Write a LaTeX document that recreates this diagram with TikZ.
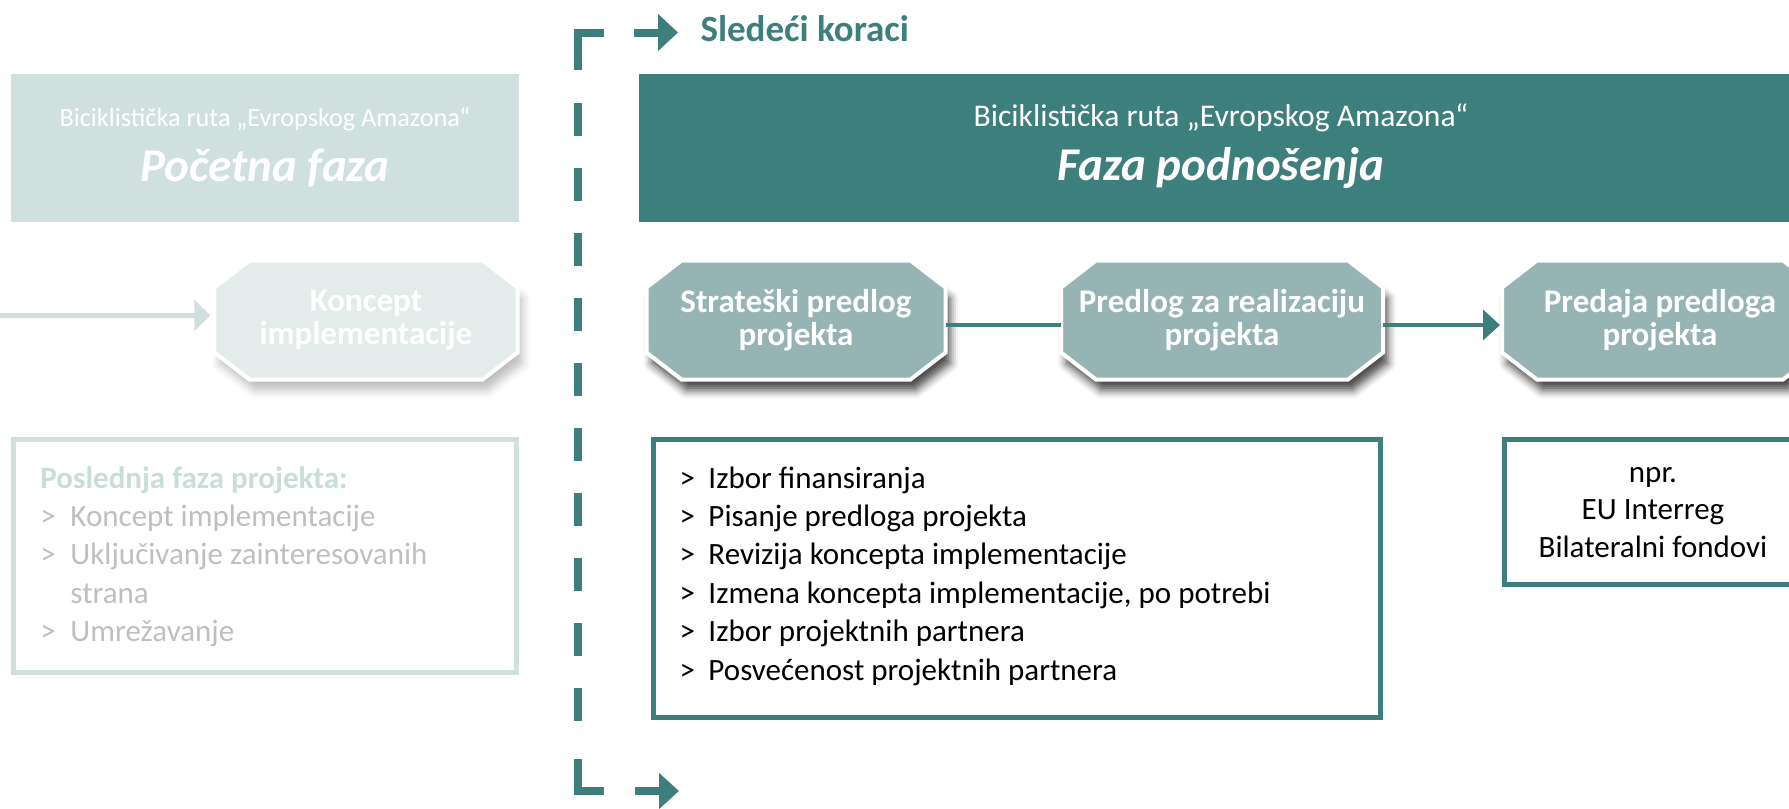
\documentclass[tikz,border=0pt]{standalone}
\usepackage{fontspec}
\setmainfont{Carlito}
\usetikzlibrary{arrows.meta,shadows.blur,backgrounds}
\definecolor{teal1}{HTML}{3D7F7D}
\definecolor{nodefill}{HTML}{95B4B3}
\definecolor{lightfill}{HTML}{CFE0DF}
\definecolor{paleN}{HTML}{E3ECEB}
\definecolor{greytext}{HTML}{BFBFBF}
\definecolor{lighthead}{HTML}{C9DDDB}
\newcommand\octpath[1]{([xshift=14pt]#1.north west) -- ([xshift=-14pt]#1.north east) -- ([yshift=-10.8pt]#1.north east) -- ([yshift=10.8pt]#1.south east) -- ([xshift=-14pt]#1.south east) -- ([xshift=14pt]#1.south west) -- ([yshift=10.8pt]#1.south west) -- ([yshift=-10.8pt]#1.north west) -- cycle}
\begin{document}
\begin{tikzpicture}[x=0.4pt,y=-0.4pt,line cap=butt,
  hdrsub/.style={text=white, anchor=base, inner sep=0pt},
  hdrtitle/.style={text=white, anchor=base, inner sep=0pt, font=\fontsize{18.8}{22}\selectfont\bfseries\itshape},
  stepnode/.style={rectangle, minimum height=47.2pt, inner sep=0pt, text=white, align=center, font=\fontsize{13.2}{13.2}\selectfont\bfseries},
  octfill/.style={fill=nodefill, draw=white, line width=1.6pt, line join=miter, blur shadow={shadow xshift=2pt, shadow yshift=-4.4pt, shadow blur radius=3.2pt, shadow opacity=#1}},
  octfill/.default=70,
  divider/.style={draw=teal1, line width=3.2pt, line join=miter},
  bigarrow/.style={draw=teal1, line width=3.2pt, -{Triangle[length=8pt, width=14.4pt]}},
  connline/.style={draw=teal1, line width=1.6pt},
  lightarrow/.style={draw=lightfill, line width=2pt, -{Triangle[length=6.4pt, width=12pt]}},
  infobox/.style={rectangle, inner sep=0pt, line width=2pt},
  boxtext/.style={inner sep=0pt, font=\fontsize{12.4}{15.36}\selectfont}
]
\useasboundingbox (0,0) rectangle (1789,808);
\clip (0,0) rectangle (1789,808);

% header boxes
\node[fill=lightfill, minimum width=203.2pt, minimum height=59.2pt, inner sep=0pt] (hdrL) at (265,148) {};
\node[hdrsub, font=\fontsize{10.5}{12}\selectfont] (hdrLsub) at (265,126) {Biciklistička ruta „Evropskog Amazona“};
\node[hdrtitle] (hdrLtit) at (265,181) {Početna faza};
\node[fill=teal1, minimum width=465.6pt, minimum height=59.2pt, inner sep=0pt] (hdrR) at (1221,148) {};
\node[hdrsub, font=\fontsize{12.64}{14}\selectfont] (hdrRsub) at (1221,126) {Biciklistička ruta „Evropskog Amazona“};
\node[hdrtitle] (hdrRtit) at (1221,180) {Faza podnošenja};

% next steps label
\node[anchor=base west, inner sep=0pt, text=teal1, font=\fontsize{14.8}{16}\selectfont\bfseries] (next) at (700,41) {Sledeći koraci};

% divider
\coordinate (dTopA) at (604,32.5);
\coordinate (dTopB) at (577.5,32.5);
\coordinate (dTopC) at (577.5,70);
\coordinate (dMidA) at (577.5,103);
\coordinate (dMidB) at (577.5,721);
\coordinate (dBotC) at (577.5,759);
\coordinate (dBotB) at (577.5,791);
\coordinate (dBotA) at (604,791);
\draw[divider] (dTopA) -- (dTopB) -- (dTopC);
\draw[divider, dash pattern=on 13.2pt off 12.8pt] (dMidA) -- (dMidB);
\draw[divider] (dBotC) -- (dBotB) -- (dBotA);

% small arrows
\coordinate (aTopS) at (634,32.5);
\coordinate (aTopE) at (678,32.5);
\draw[bigarrow] (aTopS) -- (aTopE);
\coordinate (aBotS) at (635,791);
\coordinate (aBotE) at (679,791);
\draw[bigarrow, -{Triangle[length=8pt, width=14pt]}] (aBotS) -- (aBotE);

% step nodes
\node[stepnode, minimum width=120.8pt] (kon) at (366,320) {Koncept\\implementacije};
\node[stepnode, minimum width=119.2pt] (str) at (796,320) {Strateški predlog\\projekta};
\node[stepnode, minimum width=128.4pt] (pred) at (1222,320) {Predlog za realizaciju\\projekta};
\node[stepnode, minimum width=126pt] (preda) at (1660,320) {Predaja predloga\\projekta};

\begin{pgfonlayer}{background}
\path[octfill=25, fill=paleN] \octpath{kon};
\path[octfill] \octpath{str};
\path[octfill] \octpath{pred};
\path[octfill] \octpath{preda};
\end{pgfonlayer}

% connectors
\coordinate (inL) at (-10,315.5);
\draw[lightarrow, shorten >=1.6pt] (inL) -- ([yshift=1.8pt]kon.west);
\draw[connline] ([yshift=-2pt]str.east) -- ([yshift=-2pt]pred.west);
\draw[connline, -{Triangle[length=6.8pt, width=12pt]}, shorten >=0.8pt] ([yshift=-2pt]pred.east) -- ([yshift=-2pt]preda.west);

% lower boxes
\node[infobox, draw=lightfill, minimum width=201.2pt, minimum height=93.2pt] (boxL) at (265,556) {};
\node[infobox, draw=teal1, minimum width=290.8pt, minimum height=111.2pt] (boxM) at (1017,578.5) {};
\node[infobox, draw=teal1, minimum width=118.8pt, minimum height=58pt] (boxR) at (1653,512) {};

\node[boxtext, anchor=base west, text=greytext] (txtL) at (40,488) {\begin{tabular}[t]{@{}l@{}l@{}}
\multicolumn{2}{@{}l@{}}{\color{lighthead}\bfseries Poslednja faza projekta:}\\
\makebox[12pt][l]{>} & Koncept implementacije\\
\makebox[12pt][l]{>} & Uključivanje zainteresovanih\\
 & strana\\
\makebox[12pt][l]{>} & Umrežavanje
\end{tabular}};

\node[boxtext, anchor=base west, text=black] (txtM) at (679,488) {\begin{tabular}[t]{@{}l@{}l@{}}
\makebox[11.6pt][l]{>} & Izbor finansiranja\\
\makebox[11.6pt][l]{>} & Pisanje predloga projekta\\
\makebox[11.6pt][l]{>} & Revizija koncepta implementacije\\
\makebox[11.6pt][l]{>} & Izmena koncepta implementacije, po potrebi\\
\makebox[11.6pt][l]{>} & Izbor projektnih partnera\\
\makebox[11.6pt][l]{>} & Posvećenost projektnih partnera
\end{tabular}};

\node[inner sep=0pt, font=\fontsize{12.4}{15}\selectfont, anchor=base, text=black] (txtR) at (1653,482) {\begin{tabular}[t]{@{}c@{}}
npr.\\
EU Interreg\\
Bilateralni fondovi
\end{tabular}};
\end{tikzpicture}
\end{document}
